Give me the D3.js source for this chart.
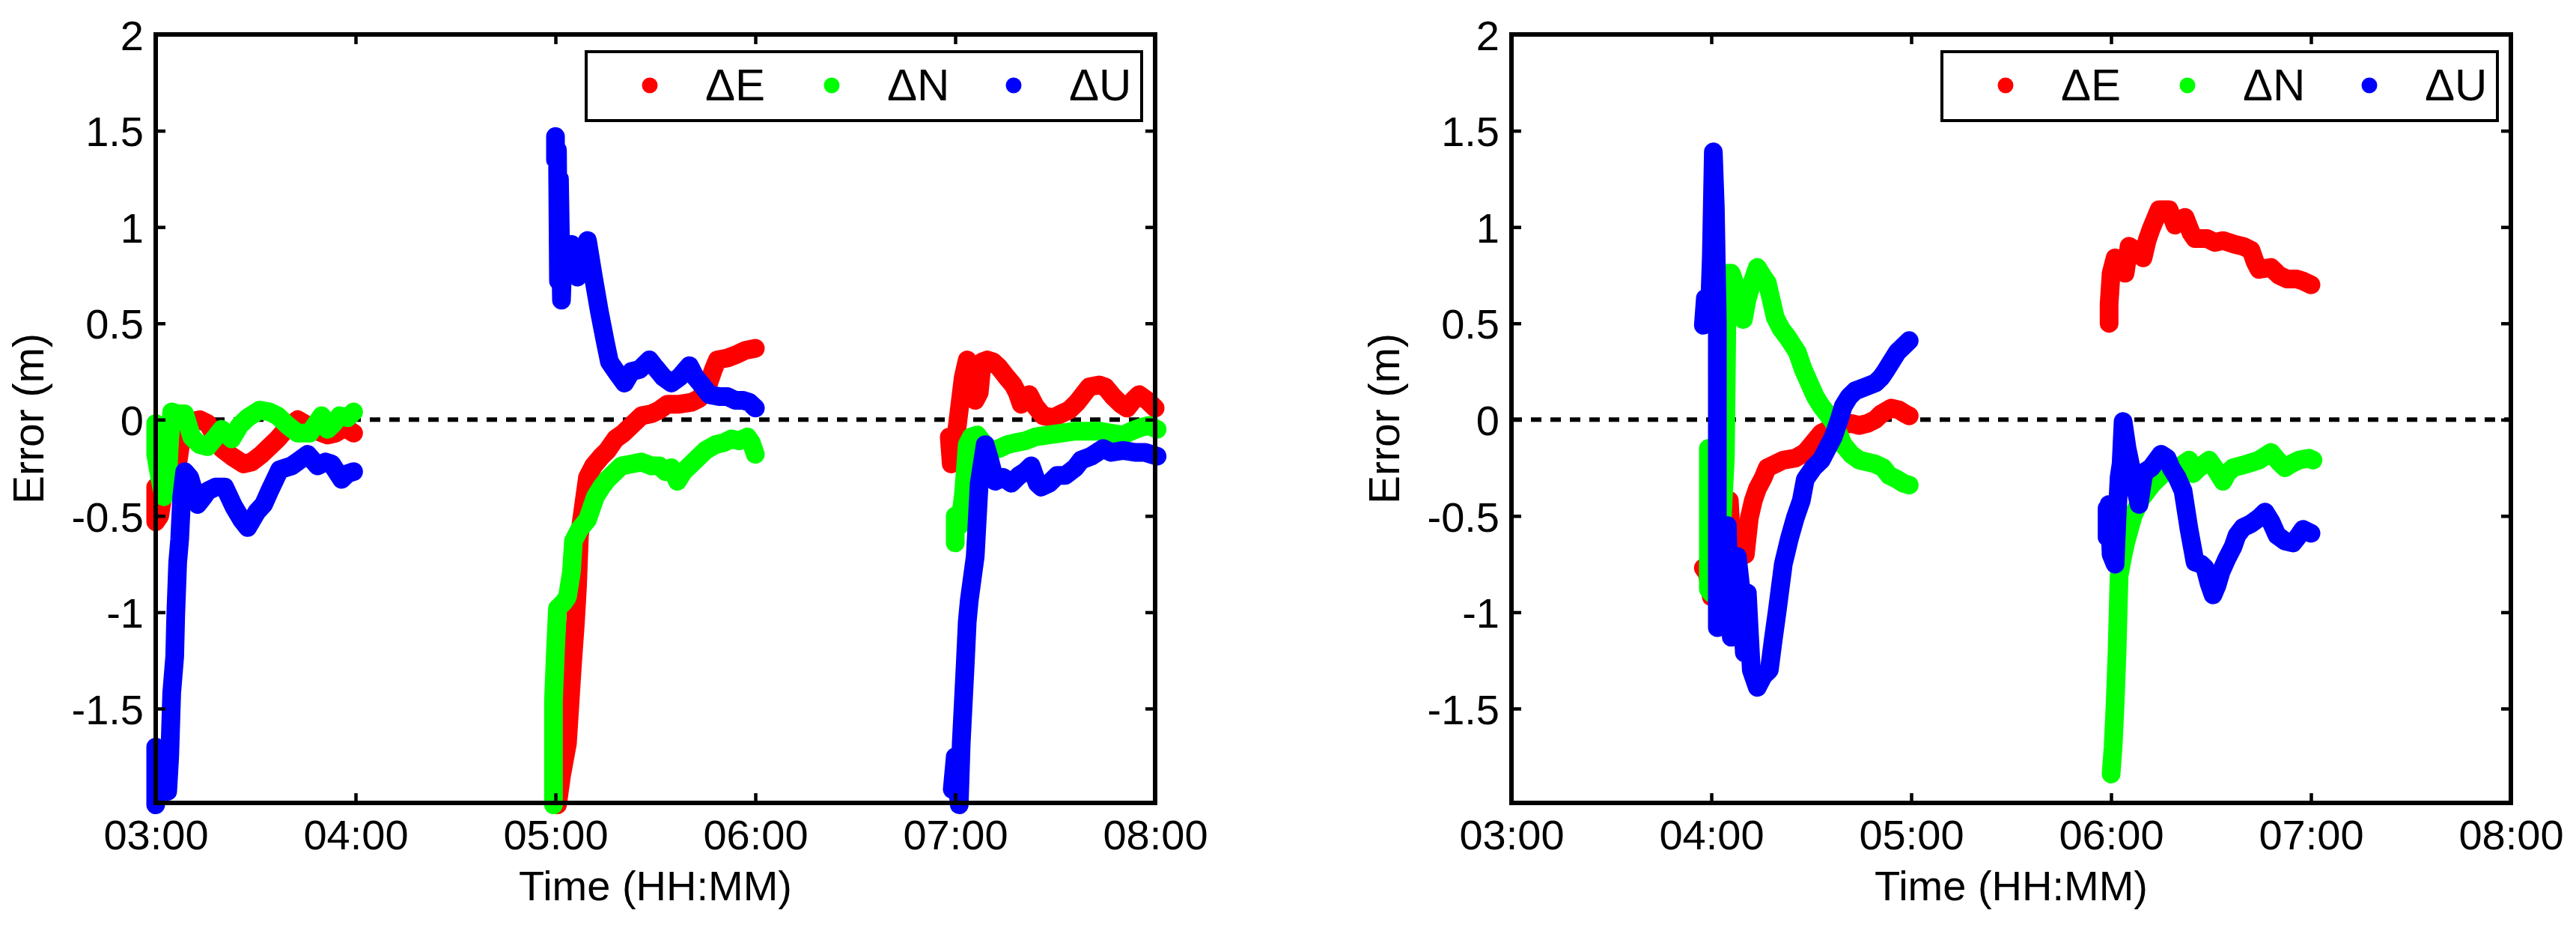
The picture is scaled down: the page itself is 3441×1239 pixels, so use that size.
<!DOCTYPE html>
<html>
<head>
<meta charset="utf-8">
<script src="https://cdn.jsdelivr.net/npm/d3@7"></script>
<style>
  html, body { margin: 0; padding: 0; background: #fff; }
  svg { display: block; }
  text { font-family: "Liberation Sans", Arial, Helvetica, sans-serif; fill: #000; }
</style>
</head>
<body>
<svg id="chart" width="3441" height="1239"></svg>
<script>
// ---------------- DATA (time in decimal hours, error in metres) ----------------
const xTicks = [3, 4, 5, 6, 7, 8];
const xTickLabels = ["03:00", "04:00", "05:00", "06:00", "07:00", "08:00"];
const yTicks = [-1.5, -1, -0.5, 0, 0.5, 1, 1.5, 2];
const yTickLabels = ["-1.5", "-1", "-0.5", "0", "0.5", "1", "1.5", "2"];
const seriesNames = ["ΔE", "ΔN", "ΔU"];
const seriesColors = ["#ff0000", "#00ff00", "#0000ff"];

// Left panel
const leftE = [
  [[3.00,-0.35],[3.00,-0.53],[3.02,-0.50],[3.04,-0.37],[3.07,-0.30],[3.11,-0.23],[3.13,-0.09],[3.16,0.0],[3.18,-0.01],[3.22,0.0],[3.26,-0.02],[3.30,-0.09],[3.33,-0.15],[3.38,-0.19],[3.44,-0.23],[3.48,-0.22],[3.53,-0.18],[3.57,-0.14],[3.61,-0.10],[3.66,-0.04],[3.71,0.0],[3.76,-0.03],[3.81,-0.06],[3.86,-0.08],[3.90,-0.07],[3.93,-0.05],[3.96,-0.05],[3.99,-0.07]],
  [[5.01,-2.0],[5.03,-1.85],[5.06,-1.68],[5.085,-1.27],[5.10,-1.05],[5.11,-0.87],[5.12,-0.60],[5.14,-0.45],[5.16,-0.30],[5.19,-0.24],[5.23,-0.19],[5.26,-0.16],[5.30,-0.10],[5.34,-0.07],[5.38,-0.03],[5.43,0.02],[5.48,0.03],[5.52,0.05],[5.56,0.08],[5.62,0.08],[5.68,0.09],[5.72,0.11],[5.76,0.17],[5.79,0.26],[5.81,0.31],[5.86,0.32],[5.91,0.34],[5.95,0.36],[6.00,0.37]],
  [[6.97,-0.09],[6.98,-0.23],[7.00,-0.12],[7.02,0.05],[7.04,0.22],[7.06,0.31],[7.08,0.22],[7.10,0.10],[7.12,0.14],[7.135,0.30],[7.16,0.31],[7.19,0.30],[7.22,0.27],[7.25,0.23],[7.29,0.18],[7.31,0.14],[7.33,0.08],[7.37,0.13],[7.40,0.07],[7.44,0.02],[7.49,0.01],[7.53,0.03],[7.57,0.05],[7.61,0.09],[7.64,0.13],[7.67,0.17],[7.72,0.18],[7.75,0.17],[7.79,0.12],[7.83,0.08],[7.86,0.06],[7.89,0.10],[7.92,0.13],[7.96,0.10],[8.00,0.06]]
];
const leftN = [
  [[3.00,-0.02],[3.00,-0.18],[3.02,-0.30],[3.04,-0.40],[3.06,-0.30],[3.07,-0.10],[3.08,0.04],[3.11,0.03],[3.145,0.03],[3.18,-0.09],[3.22,-0.13],[3.26,-0.14],[3.30,-0.09],[3.33,-0.05],[3.36,-0.08],[3.38,-0.10],[3.42,-0.03],[3.46,0.01],[3.52,0.05],[3.57,0.04],[3.61,0.02],[3.66,-0.03],[3.71,-0.07],[3.77,-0.07],[3.81,-0.01],[3.83,0.02],[3.86,-0.05],[3.89,-0.02],[3.92,0.02],[3.96,0.01],[3.99,0.04]],
  [[4.99,-2.0],[4.99,-1.46],[5.00,-1.20],[5.01,-0.98],[5.04,-0.95],[5.06,-0.92],[5.08,-0.79],[5.09,-0.63],[5.12,-0.57],[5.16,-0.52],[5.20,-0.40],[5.23,-0.35],[5.26,-0.31],[5.30,-0.27],[5.33,-0.24],[5.38,-0.23],[5.43,-0.22],[5.48,-0.24],[5.52,-0.24],[5.55,-0.27],[5.58,-0.25],[5.61,-0.32],[5.64,-0.27],[5.68,-0.23],[5.71,-0.20],[5.75,-0.16],[5.80,-0.13],[5.84,-0.12],[5.88,-0.10],[5.92,-0.11],[5.96,-0.09],[5.98,-0.12],[6.00,-0.18]],
  [[7.00,-0.64],[7.00,-0.50],[7.02,-0.55],[7.04,-0.40],[7.05,-0.27],[7.06,-0.13],[7.08,-0.09],[7.11,-0.08],[7.14,-0.12],[7.18,-0.16],[7.22,-0.15],[7.26,-0.13],[7.30,-0.12],[7.35,-0.11],[7.40,-0.09],[7.46,-0.08],[7.53,-0.07],[7.60,-0.06],[7.66,-0.06],[7.72,-0.06],[7.78,-0.07],[7.84,-0.08],[7.88,-0.06],[7.93,-0.04],[7.97,-0.03],[8.01,-0.05]]
];
const leftU = [
  [[3.00,-1.70],[3.00,-2.0],[3.02,-1.80],[3.04,-1.90],[3.06,-1.93],[3.07,-1.75],[3.08,-1.42],[3.095,-1.23],[3.10,-1.02],[3.11,-0.74],[3.12,-0.62],[3.13,-0.40],[3.145,-0.27],[3.17,-0.30],[3.21,-0.44],[3.24,-0.40],[3.26,-0.37],[3.30,-0.35],[3.345,-0.35],[3.39,-0.45],[3.43,-0.52],[3.46,-0.56],[3.505,-0.48],[3.54,-0.44],[3.57,-0.37],[3.62,-0.26],[3.68,-0.24],[3.72,-0.21],[3.76,-0.18],[3.81,-0.24],[3.85,-0.22],[3.88,-0.23],[3.93,-0.31],[3.96,-0.28],[3.99,-0.27]],
  [[5.00,1.47],[5.00,1.35],[5.01,1.40],[5.015,0.72],[5.02,1.25],[5.03,0.62],[5.04,0.90],[5.06,0.80],[5.08,0.91],[5.11,0.74],[5.13,0.80],[5.16,0.93],[5.19,0.74],[5.22,0.56],[5.25,0.40],[5.27,0.30],[5.31,0.24],[5.345,0.19],[5.38,0.25],[5.42,0.26],[5.47,0.31],[5.50,0.27],[5.54,0.22],[5.58,0.19],[5.62,0.22],[5.67,0.28],[5.70,0.22],[5.74,0.17],[5.77,0.13],[5.82,0.12],[5.86,0.12],[5.90,0.10],[5.94,0.10],[5.97,0.09],[6.00,0.06]],
  [[6.985,-1.92],[7.00,-1.75],[7.02,-2.0],[7.03,-1.68],[7.05,-1.27],[7.06,-1.05],[7.07,-0.94],[7.10,-0.71],[7.12,-0.33],[7.15,-0.13],[7.17,-0.20],[7.20,-0.32],[7.24,-0.30],[7.28,-0.33],[7.32,-0.29],[7.35,-0.27],[7.38,-0.24],[7.41,-0.33],[7.43,-0.35],[7.47,-0.33],[7.51,-0.29],[7.55,-0.29],[7.60,-0.25],[7.63,-0.21],[7.68,-0.19],[7.74,-0.15],[7.78,-0.17],[7.84,-0.16],[7.90,-0.17],[7.95,-0.17],[8.01,-0.19]]
];

// Right panel
const rightE = [
  [[3.96,-0.77],[3.98,-0.80],[4.00,-0.92],[4.03,-0.90],[4.06,-0.86],[4.08,-0.70],[4.09,-0.42],[4.10,-0.62],[4.13,-0.70],[4.17,-0.70],[4.19,-0.51],[4.21,-0.42],[4.23,-0.36],[4.26,-0.30],[4.28,-0.25],[4.32,-0.23],[4.36,-0.21],[4.42,-0.20],[4.47,-0.17],[4.51,-0.12],[4.55,-0.07],[4.59,-0.05],[4.63,-0.03],[4.70,-0.02],[4.74,-0.03],[4.78,-0.02],[4.82,0.0],[4.85,0.03],[4.90,0.06],[4.94,0.05],[4.97,0.03],[4.99,0.02]],
  [[5.99,0.50],[5.99,0.60],[6.00,0.76],[6.02,0.84],[6.04,0.80],[6.07,0.76],[6.09,0.90],[6.12,0.88],[6.16,0.84],[6.18,0.93],[6.20,0.99],[6.24,1.09],[6.29,1.09],[6.32,1.01],[6.35,1.04],[6.37,1.05],[6.40,0.97],[6.42,0.94],[6.48,0.94],[6.52,0.92],[6.56,0.93],[6.62,0.91],[6.66,0.90],[6.70,0.88],[6.72,0.82],[6.74,0.78],[6.80,0.79],[6.84,0.75],[6.88,0.73],[6.93,0.73],[6.96,0.72],[7.00,0.70]]
];
const rightN = [
  [[3.985,-0.15],[3.985,-0.88],[4.00,-0.90],[4.04,-0.80],[4.07,-0.20],[4.075,0.25],[4.08,0.76],[4.10,0.76],[4.12,0.70],[4.14,0.55],[4.16,0.52],[4.18,0.63],[4.21,0.73],[4.23,0.79],[4.26,0.74],[4.28,0.71],[4.32,0.53],[4.35,0.47],[4.38,0.43],[4.43,0.35],[4.46,0.26],[4.49,0.19],[4.52,0.12],[4.55,0.07],[4.58,0.03],[4.61,-0.01],[4.66,-0.13],[4.70,-0.18],[4.74,-0.21],[4.82,-0.23],[4.86,-0.25],[4.89,-0.29],[4.93,-0.31],[4.96,-0.33],[4.99,-0.34]],
  [[6.00,-1.84],[6.01,-1.70],[6.02,-1.48],[6.03,-1.20],[6.035,-1.00],[6.04,-0.81],[6.06,-0.70],[6.075,-0.63],[6.11,-0.50],[6.15,-0.41],[6.21,-0.33],[6.26,-0.28],[6.30,-0.27],[6.35,-0.24],[6.39,-0.21],[6.41,-0.28],[6.44,-0.25],[6.49,-0.21],[6.53,-0.27],[6.56,-0.32],[6.58,-0.28],[6.61,-0.25],[6.68,-0.23],[6.74,-0.21],[6.80,-0.17],[6.84,-0.22],[6.87,-0.25],[6.90,-0.23],[6.94,-0.21],[6.99,-0.20],[7.01,-0.21]]
];
const rightU = [
  [[3.96,0.49],[3.97,0.63],[3.99,0.55],[4.00,0.85],[4.01,1.39],[4.02,1.10],[4.03,0.50],[4.03,-0.30],[4.03,-1.08],[4.05,-0.85],[4.07,-1.00],[4.08,-0.55],[4.09,-0.95],[4.10,-1.13],[4.12,-0.80],[4.13,-0.71],[4.15,-0.90],[4.165,-1.21],[4.18,-0.90],[4.20,-1.30],[4.23,-1.39],[4.26,-1.33],[4.29,-1.30],[4.31,-1.14],[4.33,-0.99],[4.36,-0.75],[4.39,-0.62],[4.42,-0.51],[4.45,-0.42],[4.47,-0.31],[4.51,-0.25],[4.55,-0.21],[4.58,-0.15],[4.61,-0.09],[4.64,0.0],[4.66,0.07],[4.69,0.12],[4.72,0.15],[4.77,0.17],[4.82,0.19],[4.85,0.22],[4.87,0.25],[4.90,0.30],[4.93,0.35],[4.96,0.38],[4.99,0.41]],
  [[5.98,-0.46],[5.98,-0.61],[5.99,-0.44],[6.00,-0.70],[6.02,-0.75],[6.03,-0.50],[6.04,-0.30],[6.05,-0.23],[6.06,-0.01],[6.08,-0.15],[6.11,-0.30],[6.14,-0.44],[6.16,-0.30],[6.17,-0.27],[6.20,-0.25],[6.25,-0.18],[6.28,-0.20],[6.30,-0.25],[6.33,-0.30],[6.36,-0.37],[6.39,-0.57],[6.42,-0.74],[6.45,-0.75],[6.47,-0.77],[6.49,-0.85],[6.51,-0.91],[6.53,-0.86],[6.55,-0.79],[6.58,-0.72],[6.61,-0.66],[6.63,-0.60],[6.66,-0.56],[6.70,-0.54],[6.74,-0.51],[6.77,-0.48],[6.80,-0.53],[6.83,-0.60],[6.87,-0.63],[6.91,-0.64],[6.94,-0.60],[6.96,-0.57],[7.00,-0.59]]
];

// ---------------- DRAWING ----------------
const svg = d3.select("#chart");
const panels = [
  { left: 208, series: [leftE, leftN, leftU] },
  { left: 2019, series: [rightE, rightN, rightU] }
];
const plotW = 1335, plotTop = 46, plotBottom = 1072;
const tickFont = 56;

panels.forEach(p => {
  const g = svg.append("g");
  const x = d3.scaleLinear().domain([3, 8]).range([p.left, p.left + plotW]);
  const y = d3.scaleLinear().domain([-1.99, 2]).range([plotBottom, plotTop]);

  // zero dashed line
  g.append("line")
    .attr("x1", x(3)).attr("x2", x(8))
    .attr("y1", y(0)).attr("y2", y(0))
    .attr("stroke", "#000").attr("stroke-width", 6)
    .attr("stroke-dasharray", "14,12");

  // data series (E, N, U order so U is on top)
  const line = d3.line().x(d => x(d[0])).y(d => y(d[1]));
  p.series.forEach((segs, si) => {
    segs.forEach(seg => {
      g.append("path")
        .attr("d", line(seg))
        .attr("fill", "none")
        .attr("stroke", seriesColors[si])
        .attr("stroke-width", 25)
        .attr("stroke-linecap", "round")
        .attr("stroke-linejoin", "round");
    });
  });

  // Axes: bottom/left with labels, top/right tick-only, ticks inward
  const tickLen = 13;
  const axB = d3.axisBottom(x).tickValues(xTicks).tickSize(-tickLen)
    .tickFormat((d, i) => xTickLabels[i]).tickPadding(0);
  const axT = d3.axisTop(x).tickValues(xTicks).tickSize(-tickLen).tickFormat("");
  const axL = d3.axisLeft(y).tickValues(yTicks).tickSize(-tickLen)
    .tickFormat((d, i) => yTickLabels[i]);
  const axR = d3.axisRight(y).tickValues(yTicks).tickSize(-tickLen).tickFormat("");

  const gB = g.append("g").attr("transform", `translate(0,${plotBottom})`).call(axB);
  const gT = g.append("g").attr("transform", `translate(0,${plotTop})`).call(axT);
  const gL = g.append("g").attr("transform", `translate(${p.left},0)`).call(axL);
  const gR = g.append("g").attr("transform", `translate(${p.left + plotW},0)`).call(axR);

  [gB, gT, gL, gR].forEach(a => {
    a.select(".domain").remove();
    a.selectAll(".tick line").attr("stroke", "#000").attr("stroke-width", 4.5);
    a.selectAll("text").style("font-family", '"Liberation Sans", Arial, sans-serif')
      .style("font-size", tickFont + "px").attr("fill", "#000");
  });
  gB.selectAll(".tick text").attr("y", 62).attr("dy", 0);
  gL.selectAll(".tick text").attr("x", -16).attr("dy", "0.36em");

  // box
  g.append("rect")
    .attr("x", x(3)).attr("y", plotTop)
    .attr("width", plotW).attr("height", plotBottom - plotTop)
    .attr("fill", "none").attr("stroke", "#000").attr("stroke-width", 6);

  // axis titles
  g.append("text")
    .attr("x", (x(3) + x(8)) / 2).attr("y", 1202)
    .attr("text-anchor", "middle")
    .style("font-size", "56px")
    .text("Time (HH:MM)");
  g.append("text")
    .attr("transform", `translate(${p.left - 150},${(plotTop + plotBottom) / 2}) rotate(-90)`)
    .attr("text-anchor", "middle")
    .style("font-size", "57px")
    .text("Error (m)");

  // legend
  const lgX = p.left + 575, lgY = 69, lgW = 742, lgH = 92;
  const lg = g.append("g");
  lg.append("rect").attr("x", lgX).attr("y", lgY).attr("width", lgW).attr("height", lgH)
    .attr("fill", "#fff").attr("stroke", "#000").attr("stroke-width", 4);
  seriesNames.forEach((name, i) => {
    const mx = lgX + 85 + i * 243;
    lg.append("circle").attr("cx", mx).attr("cy", lgY + 45).attr("r", 10.5)
      .attr("fill", seriesColors[i]);
    lg.append("text").attr("x", mx + 74).attr("y", lgY + 65)
      .style("font-size", "60px").text(name);
  });
});
</script>
</body>
</html>
